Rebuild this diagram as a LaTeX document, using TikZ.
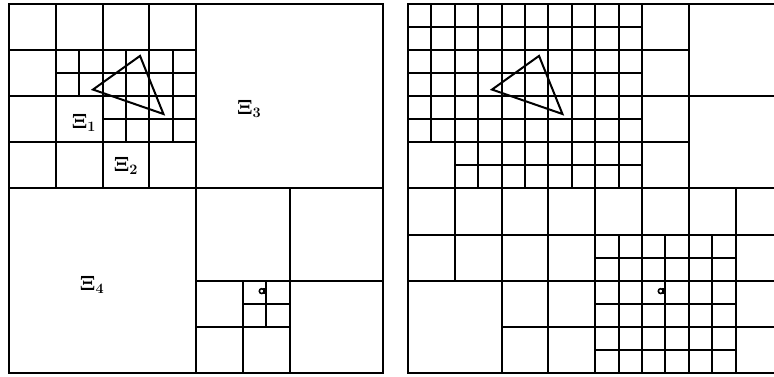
\documentclass[tikz,border=0pt]{standalone}
\begin{document}
\begin{tikzpicture}[x=1pt,y=-1pt,
  gridline/.style={line width=2pt, line cap=rect},
  lab/.style={font=\fontsize{20}{20}\selectfont, inner sep=0pt},
  elem/.style={line width=2pt, line join=miter}]
\useasboundingbox (0,0) rectangle (774,376);
\clip (0,0) rectangle (774,376);
\fill[white] (0,0) rectangle (774,376);
% ---------- left panel ----------
\begin{scope}[shift={(9pt,-4pt)}, x=23.4pt, y=-23.06pt]
  \draw[gridline] (0,0) rectangle (16,16);
  \draw[gridline] (8,0)--(8,16) (0,8)--(16,8);
  \draw[gridline] (2,0)--(2,8) (4,0)--(4,8) (6,0)--(6,8)
                  (0,2)--(8,2) (0,4)--(8,4) (0,6)--(8,6);
  \draw[gridline] (2,3)--(8,3) (3,2)--(3,4) (5,2)--(5,6) (7,2)--(7,6) (4,5)--(8,5);
  \draw[gridline] (12,8)--(12,16) (8,12)--(16,12) (10,12)--(10,16) (8,14)--(12,14)
                  (11,12)--(11,14) (10,13)--(12,13);
  \draw[elem] (3.59,3.71)--(5.60,2.25)--(6.60,4.77)--cycle;
  \draw[line width=1.6pt] (10.8,12.45) circle (2.4pt);
  \draw[line width=1.6pt] (10.905,12.32)--(10.905,12.59);
  \node[lab] (xi1) at (3.2,5.16) {$\mathbf{\Xi}_{\mathbf{1}}$};
  \node[lab] (xi2) at (5.0,7.03) {$\mathbf{\Xi}_{\mathbf{2}}$};
  \node[lab] (xi3) at (10.26,4.55) {$\mathbf{\Xi}_{\mathbf{3}}$};
  \node[lab] (xi4) at (3.55,12.19) {$\mathbf{\Xi}_{\mathbf{4}}$};
\end{scope}
% ---------- right panel ----------
\begin{scope}[shift={(408pt,-4pt)}, x=23.4pt, y=-23.06pt]
  \draw[gridline] (0,0) rectangle (16,16);
  \foreach \r in {1,3,5} \draw[gridline] (0,\r)--(10,\r);
  \draw[gridline] (0,2)--(12,2) (0,4)--(16,4) (0,6)--(12,6) (2,7)--(10,7)
                  (0,8)--(16,8) (0,10)--(16,10) (8,11)--(14,11) (0,12)--(16,12)
                  (8,13)--(14,13) (4,14)--(16,14) (8,15)--(14,15);
  \draw[gridline] (1,0)--(1,6) (2,0)--(2,12) (3,0)--(3,8) (4,0)--(4,16)
                  (5,0)--(5,8) (6,0)--(6,16) (7,0)--(7,8) (8,0)--(8,16)
                  (9,0)--(9,8) (9,10)--(9,16) (10,0)--(10,16) (11,10)--(11,16)
                  (12,0)--(12,16) (13,10)--(13,16) (14,8)--(14,16);
  \draw[elem] (3.59,3.71)--(5.60,2.25)--(6.60,4.77)--cycle;
  \draw[line width=1.6pt] (10.8,12.45) circle (2.4pt);
  \draw[line width=1.6pt] (10.905,12.32)--(10.905,12.59);
\end{scope}
\end{tikzpicture}
\end{document}
